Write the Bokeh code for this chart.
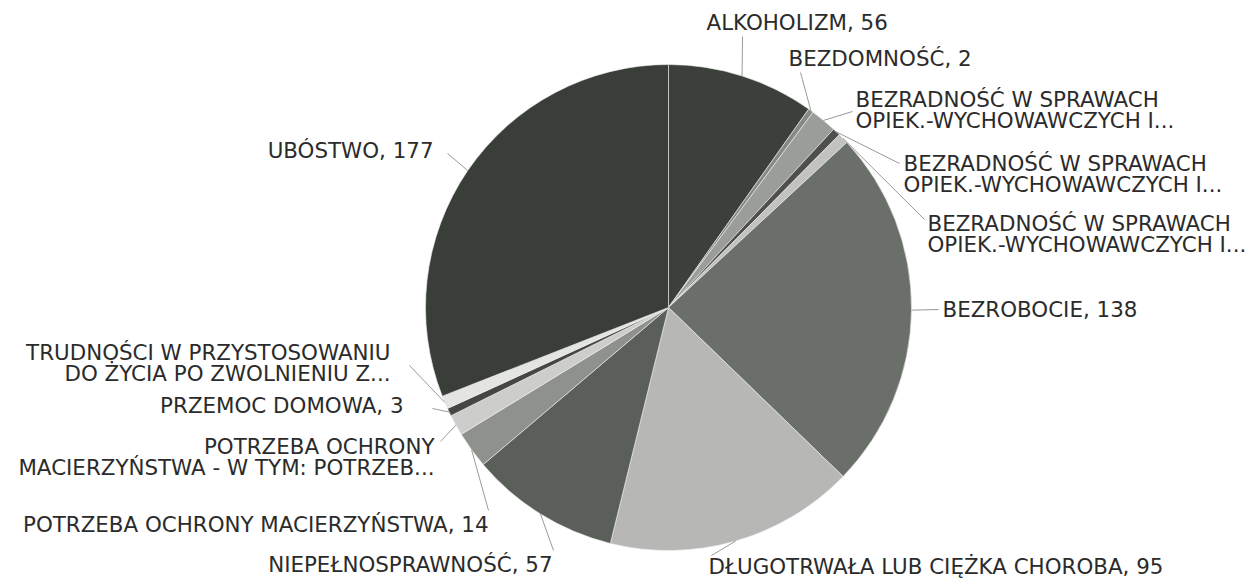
import numpy as np
from bokeh.plotting import figure
from bokeh.models import ColumnDataSource, Range1d
from bokeh.core.properties import value
from bokeh.embed import file_html
from bokeh.resources import INLINE

# ---- data ----
categories = [
    "ALKOHOLIZM",
    "BEZDOMNOŚĆ",
    "BEZRADNOŚĆ W SPRAWACH\nOPIEK.-WYCHOWAWCZYCH I...",
    "BEZRADNOŚĆ W SPRAWACH\nOPIEK.-WYCHOWAWCZYCH I...",
    "BEZRADNOŚĆ W SPRAWACH\nOPIEK.-WYCHOWAWCZYCH I...",
    "BEZROBOCIE",
    "DŁUGOTRWAŁA LUB CIĘŻKA CHOROBA",
    "NIEPEŁNOSPRAWNOŚĆ",
    "POTRZEBA OCHRONY MACIERZYŃSTWA",
    "POTRZEBA OCHRONY\nMACIERZYŃSTWA - W TYM: POTRZEB...",
    "PRZEMOC DOMOWA",
    "TRUDNOŚCI W PRZYSTOSOWANIU\nDO ŻYCIA PO ZWOLNIENIU Z...",
    "UBÓSTWO",
]
values = [56, 2, 10, 3, 4, 138, 95, 57, 14, 8, 3, 5, 177]

# ---- styles / layout ----
colors = ["#3b403a", "#868984", "#9b9d99", "#4d504b", "#c2c3c0", "#6b6f69",
          "#b7b8b5", "#5b5f59", "#8f918d", "#cdcecb", "#444742", "#e4e4e1", "#393e38"]
# label anchor (image px): x, y of first line centre, alignment
label_pos = [(706, 22, "left"), (788, 58, "left"), (855, 99, "left"), (903, 163, "left"),
             (927, 223, "left"), (942, 309, "left"), (708, 566, "left"), (552, 564, "right"),
             (488, 524, "right"), (434, 446, "right"), (403, 405, "right"), (390, 352, "right"),
             (433, 150, "right")]
leader_end = [(742, 36), (800, 72), (852, 111), (899, 163), (924, 219), (938, 309), (711, 555),
              (553, 550), (488, 510), (440, 441), (432, 408), (409, 365), (447, 153)]
LINE_H = 21

W, H = 1250, 579
OX, OY = 0, 579


def px(ix, iy):
    return ix - OX, OY - iy


cx, cy = px(668, 307)
R = 243

vals = np.array(values, dtype=float)
cum = np.concatenate([[0.0], np.cumsum(vals)])
start_b = cum[:-1] / cum[-1] * 2 * np.pi
end_b = cum[1:] / cum[-1] * 2 * np.pi
mid_b = (start_b + end_b) / 2

src = ColumnDataSource(dict(
    start=np.pi / 2 - start_b,
    end=np.pi / 2 - end_b,
    color=colors,
))

p = figure(width=W, height=H, output_backend="svg", toolbar_location=None,
           x_range=Range1d(0, W), y_range=Range1d(0, H), min_border=0,
           x_axis_type=None, y_axis_type=None)
p.grid.visible = False
p.outline_line_color = None
p.background_fill_color = "white"
p.border_fill_color = "white"

p.wedge(x=cx, y=cy, radius=R, start_angle="start", end_angle="end", direction="clock",
        fill_color="color", line_color="#eeeeee", line_width=0.6, source=src)

# leader lines
sx = cx + R * np.sin(mid_b)
sy = cy + R * np.cos(mid_b)
ex = [px(a, b)[0] for a, b in leader_end]
ey = [px(a, b)[1] for a, b in leader_end]
p.segment(x0=sx, y0=sy, x1=ex, y1=ey, line_color="#9a9a9a", line_width=1)

# labels
labels = [c if c.endswith("...") else f"{c}, {v}" for c, v in zip(categories, values)]
groups = {"left": dict(x=[], y=[], t=[]), "right": dict(x=[], y=[], t=[])}
for lab, (lx, ly, al) in zip(labels, label_pos):
    for k, line in enumerate(lab.split("\n")):
        x, y = px(lx, ly + k * LINE_H)
        groups[al]["x"].append(x)
        groups[al]["y"].append(y)
        groups[al]["t"].append(line)
for al, g in groups.items():
    p.text(x=g["x"], y=g["y"], text=g["t"], text_align=al, text_baseline="middle",
           text_font=value("DejaVu Sans"), text_font_size="21.4px", text_color="#2b2b2b")

open("out.html", "w").write(file_html(p, INLINE))
